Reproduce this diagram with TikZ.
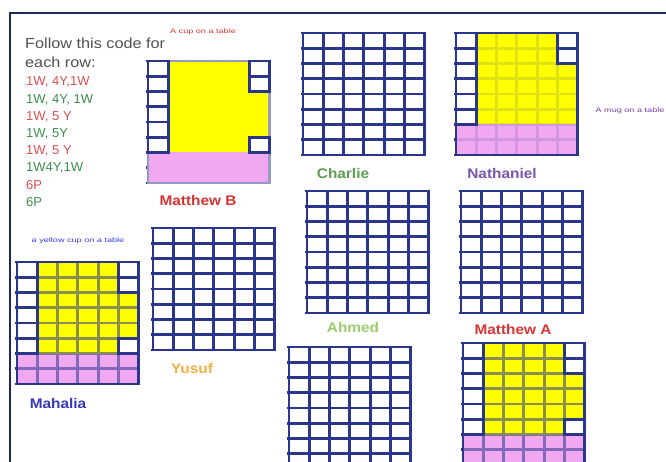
\documentclass[tikz,border=0pt]{standalone}
\usepackage{fontspec}
\setmainfont{Liberation Sans}
\definecolor{navy}{RGB}{42,54,140}
\definecolor{framec}{RGB}{30,40,90}
\definecolor{yel}{RGB}{255,255,0}
\definecolor{pnk}{RGB}{240,168,240}
\definecolor{codered}{RGB}{220,80,80}
\definecolor{codegreen}{RGB}{62,142,78}
\definecolor{txtgrey}{RGB}{80,80,80}
\definecolor{nmred}{RGB}{214,52,52}
\definecolor{nmgreen}{RGB}{92,158,80}
\definecolor{nmpurple}{RGB}{120,86,176}
\definecolor{nmlgreen}{RGB}{156,204,108}
\definecolor{nmorange}{RGB}{240,176,64}
\definecolor{nmblue}{RGB}{56,56,184}
\definecolor{smblue}{RGB}{58,58,224}
\definecolor{smpurple}{RGB}{120,60,160}
\def\cw{20.3}
\def\ch{15.25}
\newcommand\hs[2][1.1]{\scalebox{#1}[1]{#2}}
\tikzset{
  gridline/.style={draw=navy,line width=2.9pt},
  codetxt/.style={font=\fontsize{13}{15}\selectfont,anchor=base west,inner sep=0pt},
  headtxt/.style={font=\fontsize{14.5}{17}\selectfont,anchor=base west,inner sep=0pt,text=txtgrey},
  nametxt/.style={font=\bfseries\fontsize{14}{16}\selectfont,inner sep=0pt},
  smalltxt/.style={font=\fontsize{6.5}{8}\selectfont,inner sep=0pt},
}
% full grid of lines
\newcommand\gridlines[2]{%
  \begin{scope}[shift={(#1,#2)}]
    \foreach \i in {0,...,6} {\draw[gridline] (\i*\cw,-1.45) -- (\i*\cw,8*\ch+1.45);}
    \foreach \j in {0,...,8} {\draw[gridline] (-2.5,\j*\ch) -- (6*\cw+1.5,\j*\ch);}
  \end{scope}}
% colour fill of yellow spans (r/a/b) and pink rows 6-7
\newcommand\colfill[4]{%
  \begin{scope}[shift={(#1,#2)}]
    \foreach \r/\a/\b in {#4} {\fill[yel,fill opacity=#3] (\a*\cw,\r*\ch) rectangle ({(\b+1)*\cw},{(\r+1)*\ch});}
    \fill[pnk,fill opacity=#3] (0,6*\ch) rectangle (6*\cw,8*\ch);
  \end{scope}}
% redraw white cells (r/c)
\newcommand\whitecells[3]{%
  \begin{scope}[shift={(#1,#2)}]
    \foreach \r/\c in {#3} {\draw[gridline] (\c*\cw,\r*\ch) rectangle ({(\c+1)*\cw},{(\r+1)*\ch});}
  \end{scope}}
\newcommand\outerbox[3][navy]{%
  \begin{scope}[shift={(#2,#3)}]
    \draw[gridline,draw=#1] (0,0) rectangle (6*\cw,8*\ch);
  \end{scope}}
\newcommand\colgrid[6]{% x y alpha spans whites outercolor
  \colfill{#1}{#2}{1}{#4}
  \gridlines{#1}{#2}
  \colfill{#1}{#2}{#3}{#4}
  \outerbox[#6]{#1}{#2}
  \whitecells{#1}{#2}{#5}}
\begin{document}
\begin{tikzpicture}[x=1pt,y=-1pt]
\useasboundingbox (0,0) rectangle (666,462);
\fill[white] (0,0) rectangle (666,462);
\clip (0,0) rectangle (666,462);
% frame
\draw[framec,line width=2pt] (10,480) -- (10,13) -- (680,13);

% text block
\node[headtxt] (h1) at (25,49) {\hs[1.12]{Follow this code for}};
\node[headtxt] (h2) at (25,68) {\hs[1.12]{each row:}};
\node[codetxt,text=codered]   (c1) at (26,86)    {1W, 4Y,1W};
\node[codetxt,text=codegreen] (c2) at (26,103.2) {1W, 4Y, 1W};
\node[codetxt,text=codered]   (c3) at (26,120.4) {1W, 5 Y};
\node[codetxt,text=codegreen] (c4) at (26,137.6) {1W, 5Y};
\node[codetxt,text=codered]   (c5) at (26,154.8) {1W, 5 Y};
\node[codetxt,text=codegreen] (c6) at (26,172)   {1W4Y,1W};
\node[codetxt,text=codered]   (c7) at (26,189.2) {6P};
\node[codetxt,text=codegreen] (c8) at (26,206.4) {6P};

% grids
% Matthew B
\colgrid{148}{61}{1}{0/1/4,1/1/4,2/1/5,3/1/5,4/1/5,5/1/4}{0/0,1/0,2/0,3/0,4/0,5/0,0/5,1/5,5/5}{navy!50}
% Charlie
\gridlines{303}{33}
% Nathaniel
\colgrid{456}{33}{0.85}{0/1/4,1/1/4,2/1/5,3/1/5,4/1/5,5/1/5}{0/0,1/0,2/0,3/0,4/0,5/0,0/5,1/5}{navy}
% Mahalia
\colgrid{17}{262}{0.45}{0/1/4,1/1/4,2/1/5,3/1/5,4/1/5,5/1/4}{0/0,1/0,2/0,3/0,4/0,5/0,0/5,1/5,5/5}{navy}
% Yusuf
\gridlines{153}{228}
% Ahmed
\gridlines{307}{191}
% Matthew A
\gridlines{461}{191}
% bottom left
\gridlines{289}{347}
% bottom right
\colgrid{463}{343}{0.45}{0/1/4,1/1/4,2/1/5,3/1/5,4/1/5,5/1/4}{0/0,1/0,2/0,3/0,4/0,5/0,0/5,1/5,5/5}{navy}

% names
\node[nametxt,text=nmred]    (nmb) at (198,200) {\hs{Matthew B}};
\node[nametxt,text=nmgreen]  (nch) at (343,173) {\hs{Charlie}};
\node[nametxt,text=nmpurple] (nna) at (502,173) {\hs{Nathaniel}};
\node[nametxt,text=nmblue]   (nmh) at (58,403)  {\hs{Mahalia}};
\node[nametxt,text=nmorange] (nyu) at (192,368) {\hs{Yusuf}};
\node[nametxt,text=nmlgreen] (nah) at (353,327) {\hs{Ahmed}};
\node[nametxt,text=nmred]    (nma) at (513,329) {\hs{Matthew A}};

% small captions
\node[smalltxt,text=nmred]    (s1) at (203,32)  {\hs[1.4]{A cup on a table}};
\node[smalltxt,text=smpurple] (s2) at (630,111) {\hs[1.4]{A mug on a table}};
\node[smalltxt,text=smblue]   (s3) at (78,241)  {\hs[1.4]{a yellow cup on a table}};
\end{tikzpicture}
\end{document}
